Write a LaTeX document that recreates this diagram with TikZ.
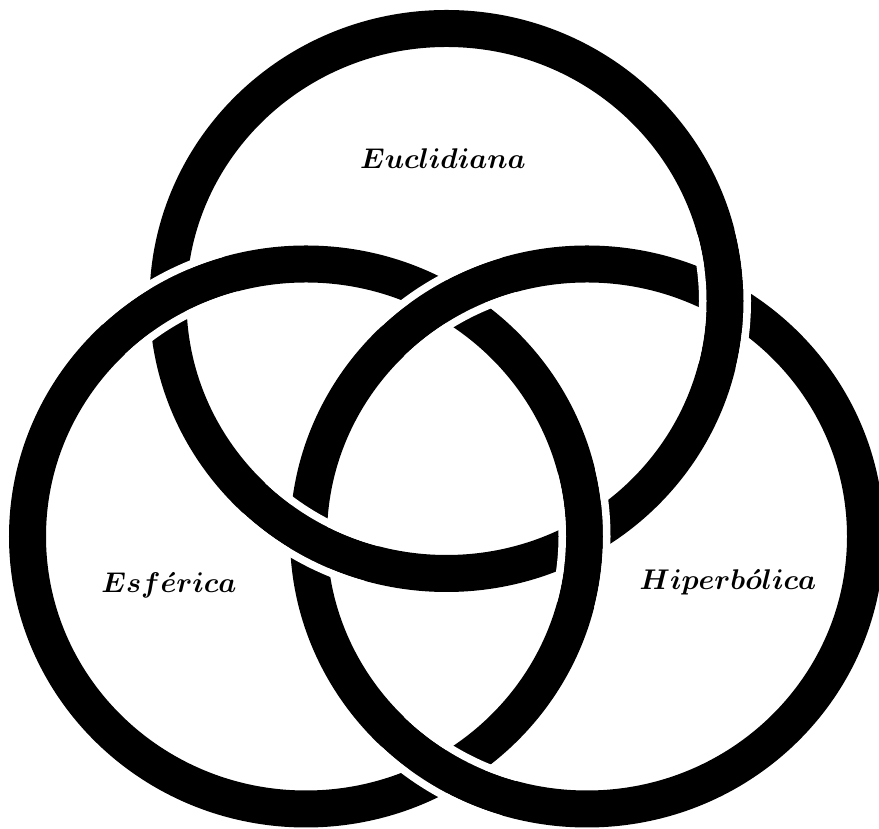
\RequirePackage{fix-cm}
\documentclass[tikz,border=0pt]{standalone}
\usepackage{amsmath}
\tikzset{
  ring/.style={draw=black, line width=37pt},
  gapline/.style={draw=white, line width=7.5pt},
  lbl/.style={anchor=base, inner sep=0pt, font=\fontsize{28.5}{32}\selectfont}
}
\begin{document}
\begin{tikzpicture}[x=1pt,y=1pt]
\useasboundingbox (0,0) rectangle (879,829);
\clip (0,0) rectangle (879,829);
\fill[white] (0,0) rectangle (879,829);
% centres
\coordinate (T) at (446.5,528);
\coordinate (L) at (306,292.5);
\coordinate (R) at (587,292.5);
\def\rx{278.5}
\def\ry{272.5}
\def\gi{22.25}
% full rings
\draw[ring] (T) ellipse [x radius=\rx, y radius=\ry];
\draw[ring] (L) ellipse [x radius=\rx, y radius=\ry];
\draw[ring] (R) ellipse [x radius=\rx, y radius=\ry];
% white gaps beside the strand that passes over
% L over T
\foreach \cx/\cy in {168/530, 585/291}{
  \begin{scope}
    \clip (\cx,\cy) circle [radius=70];
    \draw[gapline] (L) ellipse [x radius=\rx-\gi, y radius=\ry-\gi];
    \draw[gapline] (L) ellipse [x radius=\rx+\gi, y radius=\ry+\gi];
  \end{scope}
}
% T over R
\foreach \cx/\cy in {726/530, 309/291}{
  \begin{scope}
    \clip (\cx,\cy) circle [radius=70];
    \draw[gapline] (T) ellipse [x radius=\rx-\gi, y radius=\ry-\gi];
    \draw[gapline] (T) ellipse [x radius=\rx+\gi, y radius=\ry+\gi];
  \end{scope}
}
% R over L
\foreach \cx/\cy in {446.5/528.3, 446.5/56.7}{
  \begin{scope}
    \clip (\cx,\cy) circle [radius=70];
    \draw[gapline] (R) ellipse [x radius=\rx-\gi, y radius=\ry-\gi];
    \draw[gapline] (R) ellipse [x radius=\rx+\gi, y radius=\ry+\gi];
  \end{scope}
}
% labels
\node[lbl] (euc) at (443,660) {$\boldsymbol{Euclidiana}$};
\node[lbl] (esf) at (169,236) {$\boldsymbol{Esf\acute{e}rica}$};
\node[lbl] (hip) at (728,239) {$\boldsymbol{Hiperb\acute{o}lica}$};
\end{tikzpicture}
\end{document}
